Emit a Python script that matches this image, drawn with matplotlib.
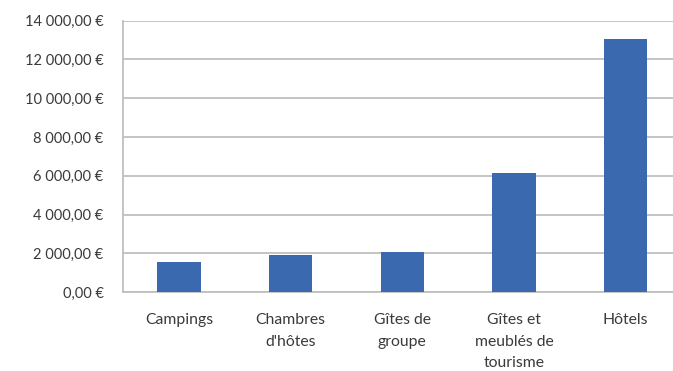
import matplotlib
matplotlib.use("Agg")
import matplotlib.pyplot as plt
from matplotlib.ticker import FuncFormatter, MultipleLocator

categories = ["Campings", "Chambres\nd'hôtes", "Gîtes de\ngroupe",
              "Gîtes et\nmeublés de\ntourisme", "Hôtels"]
values = [1580, 1920, 2100, 6130, 13040]
y_max = 14000
y_step = 2000

plt.rcParams["font.family"] = ["Lato", "DejaVu Sans"]

fig = plt.figure(figsize=(6.73, 3.71), dpi=100)
ax = fig.add_axes([0.1828, 0.2121, 0.8299, 0.7326])

x = range(len(categories))
ax.bar(x, values, width=0.39, color="#3B69AF", zorder=3)

ax.set_xlim(-0.5, len(categories) - 0.5)
ax.set_ylim(0, y_max)
ax.yaxis.set_major_locator(MultipleLocator(y_step))


def euro(v, pos):
    whole = f"{v:,.2f}".replace(",", " ").replace(".", ",")
    return f"{whole} €"


ax.yaxis.set_major_formatter(FuncFormatter(euro))
ax.set_xticks(list(x))
ax.set_xticklabels(categories, linespacing=1.68, va="top")

ax.grid(axis="y", color="#BFBFBF", linewidth=1.3, zorder=0)
for side in ("top", "right"):
    ax.spines[side].set_visible(False)
for side in ("left", "bottom"):
    ax.spines[side].set_color("#BFBFBF")
    ax.spines[side].set_linewidth(1.3)

ax.tick_params(axis="y", length=0, pad=14, labelsize=10.5, labelcolor="#3A3A3A")
ax.tick_params(axis="x", length=0, pad=15, labelsize=11.3, labelcolor="#3A3A3A")

fig.savefig("out.png", dpi=100)
